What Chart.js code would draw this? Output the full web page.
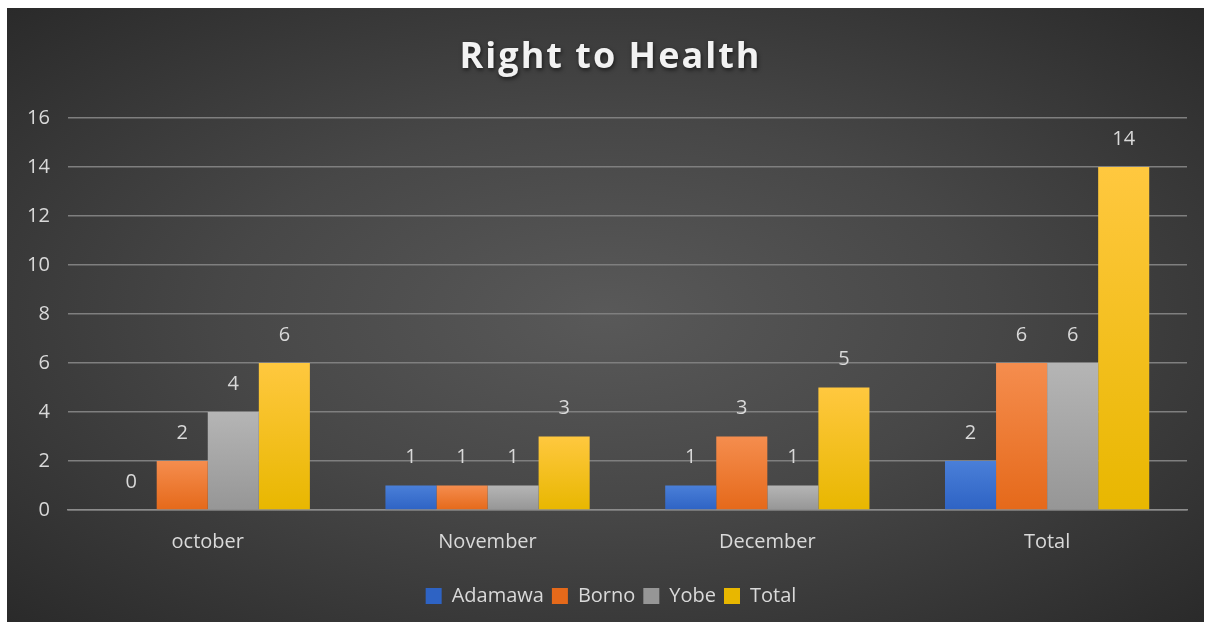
<!DOCTYPE html>
<html>
<head>
<meta charset="utf-8">
<script src="https://cdn.jsdelivr.net/npm/chart.js@4.4.0/dist/chart.umd.min.js"></script>
<style>
  html, body { margin: 0; padding: 0; background: #ffffff; }
  #frame {
    position: absolute; left: 7px; top: 8px; width: 1197px; height: 614px;
    background: radial-gradient(ellipse at center, #595959 0%, #474747 45%, #2a2a2a 100%);
  }
  canvas { display: block; }
</style>
</head>
<body>
<div id="frame"><canvas id="chart" width="1197" height="614"></canvas></div>
<script>
// Right to Health - cases per month by state
const categories = ['october', 'November', 'December', 'Total'];
const adamawa = [0, 1, 1, 2];
const borno = [2, 1, 3, 6];
const yobe = [4, 1, 1, 6];
const total = [6, 3, 5, 14];
const yTicks = [0, 2, 4, 6, 8, 10, 12, 14, 16];

const FONT = 'Open Sans';
const TEXT = '#d9d9d9';

// gradient per bar, light at top and darker at the bottom
function barGradient(top, bottom) {
  return function(context) {
    const chart = context.chart;
    const scale = chart.scales && chart.scales.y;
    if (!chart.chartArea || !scale || context.raw === undefined) return bottom;
    const y0 = scale.getPixelForValue(context.raw);
    const y1 = scale.getPixelForValue(0);
    if (y1 - y0 < 1) return bottom;
    const g = chart.ctx.createLinearGradient(0, y0, 0, y1);
    g.addColorStop(0, top);
    g.addColorStop(1, bottom);
    return g;
  };
}

// value labels above each bar
const valueLabels = {
  id: 'valueLabels',
  afterDatasetsDraw(chart) {
    const ctx = chart.ctx;
    ctx.save();
    ctx.font = '20px "' + FONT + '"';
    ctx.fillStyle = TEXT;
    ctx.textAlign = 'center';
    ctx.textBaseline = 'middle';
    chart.data.datasets.forEach((ds, i) => {
      chart.getDatasetMeta(i).data.forEach((bar, j) => {
        ctx.fillText(ds.data[j], bar.x, bar.y - 28);
      });
    });
    ctx.restore();
  }
};

// title with a soft shadow
const titleShadow = {
  id: 'titleShadow',
  beforeDraw(chart) {
    const ctx = chart.ctx;
    ctx.save();
    ctx.font = 'bold 36px "' + FONT + '"';
    ctx.letterSpacing = '2px';
    ctx.textAlign = 'center';
    ctx.textBaseline = 'middle';
    ctx.shadowColor = 'rgba(0,0,0,0.6)';
    ctx.shadowBlur = 4;
    ctx.shadowOffsetX = 1;
    ctx.shadowOffsetY = 2;
    ctx.fillStyle = '#f2f2f2';
    ctx.fillText('Right to Health', chart.width / 2 + 5, 50);
    ctx.restore();
  }
};

// nudge the legend a bit to the right, like the original
const legendShift = {
  id: 'legendShift',
  afterLayout(chart) {
    if (chart.legend) {
      chart.legend.left += 13;
      chart.legend.right += 13;
    }
  }
};

new Chart(document.getElementById('chart'), {
  type: 'bar',
  data: {
    labels: categories,
    datasets: [
      { label: 'Adamawa', data: adamawa, backgroundColor: barGradient('#4a7fd8', '#2e63c4') },
      { label: 'Borno', data: borno, backgroundColor: barGradient('#f58d4e', '#e5691a') },
      { label: 'Yobe', data: yobe, backgroundColor: barGradient('#b5b5b5', '#969696') },
      { label: 'Total', data: total, backgroundColor: barGradient('#ffc83f', '#e8b700') }
    ]
  },
  options: {
    responsive: false,
    animation: false,
    devicePixelRatio: 1,
    layout: { padding: { top: 110, right: 17, left: 2, bottom: 6 } },
    datasets: {
      bar: { categoryPercentage: 0.73, barPercentage: 1.0, borderWidth: 0 }
    },
    plugins: {
      title: { display: false },
      tooltip: { enabled: false },
      legend: {
        position: 'bottom',
        labels: {
          color: TEXT,
          font: { family: FONT, size: 20 },
          boxWidth: 16,
          boxHeight: 16,
          padding: 8
        }
      }
    },
    scales: {
      x: {
        grid: { display: false },
        border: { display: true, color: '#8c8c8c', width: 1.5 },
        ticks: { color: TEXT, font: { family: FONT, size: 20 }, padding: 12 },
        afterFit(axis) { axis.height += 12; }
      },
      y: {
        min: 0,
        max: 16,
        afterBuildTicks(axis) { axis.ticks = yTicks.map(v => ({ value: v })); },
        grid: { color: '#7f7f7f', lineWidth: 1.5, drawTicks: false },
        border: { display: false },
        ticks: { color: TEXT, font: { family: FONT, size: 20 }, padding: 18 }
      }
    }
  },
  plugins: [valueLabels, titleShadow, legendShift]
});
</script>
</body>
</html>
